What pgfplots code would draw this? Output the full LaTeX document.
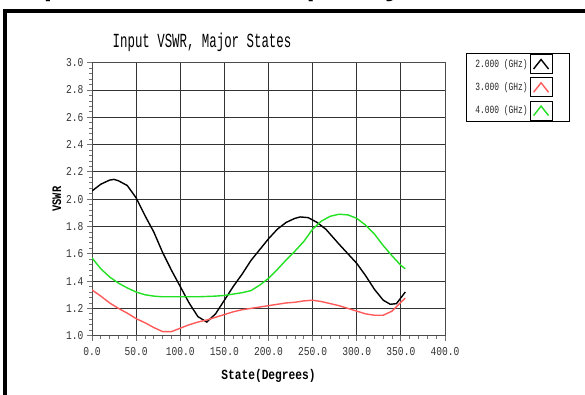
\documentclass[border=0pt]{standalone}
\usepackage{pgfplots}
\pgfplotsset{compat=1.18}
\usepackage{fontspec}
\newfontfamily\monofont{Liberation Mono}[FakeStretch=0.8]
\newfontfamily\legfont{Liberation Mono}[FakeStretch=0.72]
\newfontfamily\titlefont{Liberation Mono}[FakeStretch=0.62]
\newfontfamily\headfont{Liberation Sans}
\definecolor{vsred}{HTML}{FF5A5A}
\definecolor{vsgreen}{HTML}{22E022}

% 2 GHz
\pgfplotstableread{
deg vswr
0 2.06
10 2.11
20 2.14
25 2.145
30 2.135
40 2.10
50 2.01
60 1.88
70 1.76
80 1.61
90 1.48
100 1.36
110 1.24
120 1.14
130 1.10
140 1.16
150 1.26
160 1.36
170 1.45
180 1.55
190 1.63
200 1.71
210 1.78
220 1.83
230 1.86
236 1.87
245 1.865
255 1.83
265 1.78
280 1.67
290 1.60
300 1.53
310 1.44
320 1.34
330 1.26
338 1.23
345 1.235
355 1.32
}\tabA
% 3 GHz
\pgfplotstableread{
deg vswr
0 1.335
10 1.29
20 1.24
30 1.20
40 1.165
50 1.125
60 1.095
70 1.06
80 1.03
90 1.03
100 1.055
110 1.08
120 1.10
130 1.115
140 1.135
150 1.155
160 1.175
170 1.19
180 1.20
190 1.21
200 1.22
210 1.23
220 1.24
230 1.245
240 1.255
250 1.26
260 1.25
270 1.235
280 1.22
290 1.20
300 1.18
310 1.16
320 1.15
330 1.15
340 1.18
350 1.245
355 1.275
}\tabB
% 4 GHz
\pgfplotstableread{
deg vswr
0 1.57
10 1.49
20 1.43
30 1.385
40 1.35
50 1.32
60 1.30
70 1.29
80 1.285
100 1.285
120 1.285
140 1.29
150 1.295
160 1.305
170 1.315
180 1.33
190 1.37
200 1.42
210 1.485
220 1.555
230 1.62
240 1.69
250 1.78
260 1.84
270 1.875
280 1.89
290 1.885
300 1.86
310 1.81
320 1.745
330 1.66
340 1.585
350 1.515
355 1.49
}\tabC

\begin{document}
\begin{tikzpicture}
\useasboundingbox (0,0) rectangle (585bp,395bp);
% page heading, cut by the top edge
\begin{scope}
\clip (0,389bp) rectangle (585bp,395bp);
\node[anchor=base west, inner sep=0, font=\headfont\bfseries\fontsize{30bp}{30bp}\selectfont] at (17bp,399bp) {Input VSWR vs. Frequency};
\end{scope}
% outer frame
\draw[line width=3.5bp] (4.8bp,0) -- (4.8bp,384bp) -- (585bp,384bp);
% title
\node[font=\titlefont\fontsize{20bp}{20bp}\selectfont] at (202bp,353bp) {Input VSWR, Major States};
\begin{axis}[
  at={(92bp,59.3bp)}, anchor=south west,
  scale only axis, width=353bp, height=273bp,
  xmin=0, xmax=400, ymin=1.0, ymax=3.0,
  xtick={0,50,...,400}, ytick={1.0,1.2,...,3.0},
  minor x tick num=4, minor y tick num=4,
  xtick pos=bottom, ytick pos=left,
  tick align=outside,
  major tick length=5bp, minor tick length=3bp,
  grid=major,
  grid style={black!80, line width=0.8bp},
  axis line style={black!70, line width=0.8bp},
  tick style={black!55, line width=0.8bp},
  /pgf/number format/assume math mode=true,
  /pgf/number format/.cd, fixed, zerofill, precision=1, /pgfplots/.cd,
  ticklabel style={font=\monofont\fontsize{12bp}{12bp}\selectfont, text=black!80},
  xticklabel style={yshift=-3bp},
  xlabel={State(Degrees)},
  xlabel style={font=\monofont\bfseries\fontsize{14bp}{14bp}\selectfont, yshift=-7bp},
  ylabel={VSWR},
  ylabel style={font=\monofont\bfseries\fontsize{13bp}{13bp}\selectfont, yshift=-2bp},
  legend plot pos=right,
  legend cell align=left,
  legend image code/.code={
    \path[draw=none, fill=none] (0bp,0bp) -- (32bp,0bp);
    \draw[black, line width=0.8bp, fill=white] (0bp,-9.5bp) rectangle (22bp,9.5bp);
    \draw[#1] (3.5bp,-5bp) -- (11bp,4.5bp) -- (18.5bp,-5bp);
  },
  legend style={
    at={(1.0595,1.0366)}, anchor=north west,
    draw=black, line width=0.8bp, fill=white,
    inner xsep=7bp, inner ysep=1bp,
    row sep=3.5bp,
    font=\legfont\fontsize{11bp}{11bp}\selectfont,
    nodes={text=black!85},
  },
]
\addplot[black, line width=1.4bp] table[x=deg, y=vswr] {\tabA};
\addlegendentry{2.000 (GHz)}
\addplot[vsred, line width=1.4bp] table[x=deg, y=vswr] {\tabB};
\addlegendentry{3.000 (GHz)}
\addplot[vsgreen, line width=1.4bp] table[x=deg, y=vswr] {\tabC};
\addlegendentry{4.000 (GHz)}
\end{axis}
\end{tikzpicture}
\end{document}
